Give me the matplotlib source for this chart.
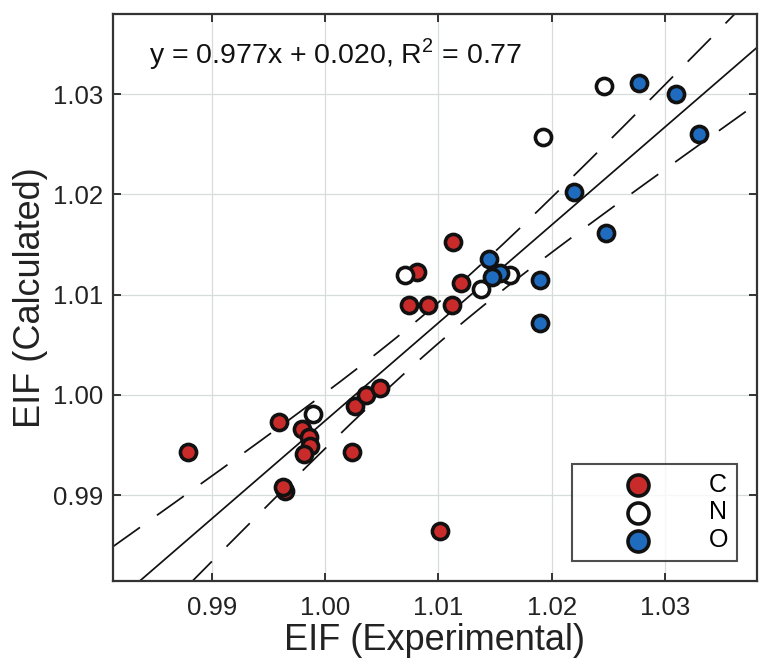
import numpy as np
import matplotlib
matplotlib.use("Agg")
import matplotlib.pyplot as plt
from matplotlib import font_manager

# ---------------- data ----------------
c_x = [0.98791, 0.99597, 0.99794, 0.99861, 0.99868, 0.99815, 0.99647, 0.99632,
       1.00236, 1.00265, 1.00359, 1.00486, 1.01015, 1.00809, 1.00744, 1.00912,
       1.01118, 1.01127, 1.01198]
c_y = [0.99432, 0.99724, 0.99658, 0.99578, 0.99485, 0.99412, 0.99036, 0.99080,
       0.99425, 0.99890, 0.99997, 1.00063, 0.98644, 1.01223, 1.00894, 1.00894,
       1.00894, 1.01528, 1.01114]
n_x = [0.99897, 1.00706, 1.01374, 1.01633, 1.01921, 1.02462]
n_y = [0.99811, 1.01196, 1.01054, 1.01196, 1.02569, 1.03081]
o_x = [1.01450, 1.01545, 1.01477, 1.01898, 1.01898, 1.02200, 1.02478, 1.02771,
       1.03098, 1.03304]
o_y = [1.01353, 1.01219, 1.01173, 1.01147, 1.00715, 1.02021, 1.01612, 1.03108,
       1.03001, 1.02602]
fit_slope = 0.977
fit_intercept = 0.0204
r2 = 0.77
ticks = [0.99, 1.00, 1.01, 1.02, 1.03]
tick_labels = ["0.99", "1.00", "1.01", "1.02", "1.03"]
series_labels = ["C", "N", "O"]

# ---------------- fonts ----------------
def pick(names):
    for n in names:
        try:
            font_manager.findfont(n, fallback_to_default=False)
            return n
        except Exception:
            pass
    return "DejaVu Sans"

fam = pick(["Liberation Sans", "Arial"])
plt.rcParams["font.family"] = [fam, "DejaVu Sans"]
plt.rcParams["mathtext.fontset"] = "custom"
plt.rcParams["mathtext.rm"] = fam

RED = "#c92b2a"
BLUE = "#1f6cbf"
WHITE = "#ffffff"

fig = plt.figure(figsize=(7.71, 6.71), dpi=100)
ax = fig.add_axes([0.147, 0.1346, 0.8344, 0.8445])

ax.set_xlim(0.98132, 1.03809)
ax.set_ylim(0.98146, 1.03798)

ax.grid(True, color="#d6dcdc", lw=0.9, zorder=0)
ax.set_axisbelow(True)

# regression line and confidence band of the mean, from all points
all_x = np.array(c_x + n_x + o_x)
all_y = np.array(c_y + n_y + o_y)
n = len(all_x)
xs = np.linspace(0.9813, 1.045, 400)
yfit = fit_slope * xs + fit_intercept
res = all_y - (fit_slope * all_x + fit_intercept)
s = np.sqrt(np.sum(res ** 2) / (n - 2))
xm = all_x.mean()
sxx = np.sum((all_x - xm) ** 2)
tval = 2.035
half = tval * s * np.sqrt(1.0 / n + (xs - xm) ** 2 / sxx)

ax.plot(xs, yfit, color="#111111", lw=1.25, zorder=2)
for sgn in (1, -1):
    ax.plot(xs, yfit + sgn * half, color="#111111", lw=1.25,
            dashes=(19, 12), zorder=2)

mk = dict(s=135, edgecolors="#111111", linewidths=2.6, zorder=3)
ax.scatter(c_x, c_y, c=RED, label=series_labels[0], **mk)
ax.scatter(n_x, n_y, c=WHITE, label=series_labels[1], **mk)
ax.scatter(o_x, o_y, c=BLUE, label=series_labels[2], **mk)

ax.set_xticks(ticks)
ax.set_xticklabels(tick_labels)
ax.set_yticks(ticks)
ax.set_yticklabels(tick_labels)
ax.tick_params(direction="in", length=6, width=1.4, color="#333333",
               labelsize=18.5, top=True, right=True, labelcolor="#222222")
ax.tick_params(axis="x", pad=11)
ax.tick_params(axis="y", pad=7)
for sp in ax.spines.values():
    sp.set_color("#333333")
    sp.set_linewidth(1.6)

ax.set_xlabel("EIF (Experimental)", fontsize=26, color="#222222", labelpad=2)
ax.set_ylabel("EIF (Calculated)", fontsize=26, color="#222222", labelpad=4)

ax.text(0.056, 0.93, "y = %.3fx + %.3f, R$^2$ = %.2f" % (fit_slope, 0.020, r2),
        transform=ax.transAxes, fontsize=20.5, color="#111111", va="center")

leg = ax.legend(loc="lower right", bbox_to_anchor=(0.970, 0.035),
                fontsize=18, frameon=True, fancybox=False, edgecolor="#222222",
                handlelength=4.6, handletextpad=0.55, borderpad=0.35,
                labelspacing=0.15, markerscale=1.3, borderaxespad=0)
leg.get_frame().set_linewidth(1.5)

fig.savefig("out.png", dpi=100)
